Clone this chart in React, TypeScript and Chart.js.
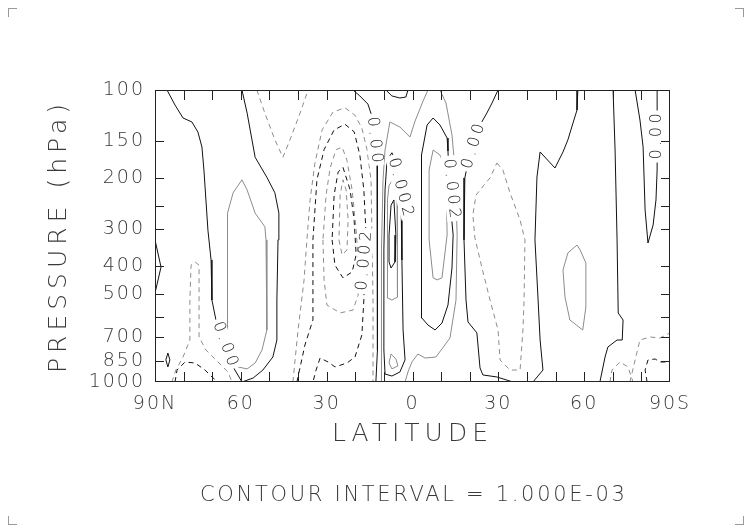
import { useEffect, useRef } from 'react';
import { Chart, registerables } from 'chart.js';

Chart.register(...registerables);

// Each contour point: [latitude (north positive), pressure in hPa]
type Pt = [number, number];

const latTickValues = [90, 60, 30, 0, -30, -60, -90];
const latTickLabels = ['90N', '60', '30', '0', '30', '60', '90S'];
const latMinorTicks = [80, 70, 60, 50, 40, 30, 20, 10, 0, -10, -20, -30, -40, -50, -60, -70, -80];
const presTickValues = [100, 150, 200, 300, 400, 500, 700, 850, 1000];
const presTickLabels = ['100', '150', '200', '300', '400', '500', '700', '850', '1000'];
const presMinorTicks = [150, 200, 250, 300, 400, 500, 600, 700, 850];

// ---- contour lines (level in units of the field) ----
const zeroWest: Pt[] = [[85.8, 100], [83.0, 112.6], [80.2, 124.7], [77.1, 128.7], [75.0, 139.3], [73.6, 156.7], [72.9, 188], [72.2, 238], [71.5, 302], [70.4, 382], [70.1, 524], [68.7, 613], [65.5, 747], [62.7, 888], [59.6, 1000], [55.7, 969], [52.3, 910], [48.8, 821], [47.4, 718], [47.4, 524], [47.0, 326], [46.7, 264], [48.1, 225], [50.9, 199], [55.0, 170], [57.8, 120], [59.6, 100]];
const posWest1: Pt[] = [[59.6, 203], [57.8, 220], [55.0, 264], [51.6, 294], [51.2, 326], [50.9, 663], [52.6, 777], [55.0, 861], [57.8, 902], [61.0, 888], [63.8, 796], [64.8, 663], [64.8, 326], [64.5, 264], [62.7, 225], [59.6, 203]];
const edgeLoop: Pt[] = [[90, 326], [87.9, 404], [90, 496]];
const smallLoop: Pt[] = [[85.5, 796], [84.8, 840], [85.5, 888], [86.2, 840], [85.5, 796]];
const negWestA: Pt[] = [[84.1, 1000], [82.7, 910], [80.2, 821], [77.8, 718], [77.8, 524], [77.4, 398], [76.0, 388], [74.6, 398], [74.6, 524], [74.6, 701], [72.2, 777], [68.0, 854], [64.5, 924], [63.1, 1000]];
const negWestB: Pt[] = [[83.0, 1000], [82.3, 910], [79.5, 854], [76.0, 861], [72.5, 910], [70.1, 961], [68.0, 1000]];
const negTopV: Pt[] = [[54.4, 100], [51.6, 120], [48.1, 148], [45.3, 170], [42.8, 148], [39.3, 120], [36.5, 100]];
const neg1: Pt[] = [[41.8, 1000], [40.0, 663], [37.9, 447], [36.9, 326], [35.8, 238], [34.1, 178], [31.6, 137], [27.8, 119], [23.6, 115], [20.1, 122], [17.7, 135], [15.9, 160], [14.5, 203], [14.2, 302], [13.8, 524], [13.8, 777], [13.8, 1000]];
const neg2: Pt[] = [[40.4, 1000], [37.6, 747], [34.8, 613], [34.8, 447], [34.8, 326], [33.4, 203], [30.9, 160], [27.4, 137], [23.6, 131], [20.4, 139], [18.4, 167], [17.0, 220], [16.3, 302], [16.6, 382], [17.0, 524], [17.7, 690], [20.1, 821], [22.9, 861], [27.1, 888], [29.5, 854], [32.3, 828], [33.7, 910], [34.8, 1000]];
const neg3: Pt[] = [[31.3, 326], [30.9, 447], [29.9, 545], [25.3, 580], [20.8, 567], [19.0, 504], [19.0, 382], [19.7, 302], [21.1, 220], [22.9, 174], [24.6, 157], [26.7, 160], [28.8, 185], [30.2, 229], [31.3, 326]];
const neg4: Pt[] = [[28.1, 326], [27.1, 398], [24.3, 440], [21.1, 420], [19.7, 367], [20.4, 279], [21.8, 220], [24.3, 184], [26.0, 191], [27.4, 229], [28.1, 326]];
const neg5: Pt[] = [[25.7, 326], [24.6, 367], [22.9, 353], [22.5, 279], [23.2, 220], [24.3, 203], [25.3, 229], [25.7, 326]];
const zeroCentral: Pt[] = [[20.8, 100], [18.4, 104.8], [15.6, 111.7], [14.2, 122.8], [13.1, 148.3], [12.4, 177.8], [12.1, 195.5], [12.1, 301.6], [12.4, 524], [12.4, 777], [12.8, 1000]];
const zeroTopSmall: Pt[] = [[9.3, 100], [7.2, 104.8], [4.4, 106.5], [2.3, 105.7], [1.6, 100]];
const pos1West: Pt[] = [[11.0, 1000], [11.0, 613], [10.7, 353], [10.3, 203], [9.6, 160.5], [7.9, 128.7], [4.4, 133.9], [0.9, 144.9], [-0.9, 127.7], [-3.7, 109.1], [-5.4, 100]];
const pos1East: Pt[] = [[-9.6, 100], [-11.7, 110.8], [-13.8, 142.6], [-14.9, 188], [-15.6, 313.7], [-15.2, 524], [-13.1, 706.8], [-8.2, 821], [-4.4, 827.7], [-1.9, 802], [0.2, 854], [1.6, 924], [2.6, 1000]];
const pos2Central: Pt[] = [[8.9, 174], [7.2, 164], [5.1, 181], [4.0, 238], [3.7, 382], [3.3, 663], [2.6, 840], [4.4, 924], [7.2, 954], [9.6, 939], [10.0, 777], [10.0, 353], [9.6, 220], [8.9, 174]];
const pos3Central: Pt[] = [[8.2, 212], [6.8, 203], [5.4, 238], [5.1, 314], [5.4, 512], [7.2, 524], [8.6, 516], [8.9, 326], [8.6, 238], [8.2, 212]];
const pos4Central: Pt[] = [[7.5, 248], [6.5, 238], [5.8, 314], [6.1, 388], [7.5, 407], [8.2, 388], [8.2, 314], [7.5, 248]];
const posSmall: Pt[] = [[7.5, 802], [5.8, 834], [5.1, 881], [7.2, 902], [8.2, 861], [7.5, 802]];
const pos2East: Pt[] = [[-7.2, 124.7], [-9.6, 131.8], [-12.1, 146], [-12.4, 161.8], [-13.1, 238], [-14.2, 313.7], [-13.8, 407], [-12.4, 545], [-10.3, 628], [-7.9, 663.5], [-5.4, 638], [-3.3, 604], [-3.0, 326], [-3.3, 167], [-5.1, 131.8], [-7.2, 124.7]];
const pos3East: Pt[] = [[-7.2, 160.5], [-9.6, 167], [-11.7, 188], [-12.1, 313.7], [-10.3, 440], [-8.6, 447], [-7.2, 440], [-5.8, 326], [-5.8, 188], [-7.2, 160.5]];
const zeroEast1: Pt[] = [[-29.9, 100], [-27.8, 110.8], [-26.0, 119.9], [-23.6, 131.8], [-21.1, 154.3], [-19.0, 185], [-18.3, 200], [-18.0, 326], [-18.7, 524], [-19.4, 623], [-22.5, 679], [-23.6, 895], [-24.6, 946], [-29.5, 961], [-35.1, 1000]];
const negEast1: Pt[] = [[-29.5, 177.8], [-31.6, 188], [-34.1, 225.4], [-37.6, 278.7], [-39.3, 326], [-39.0, 524], [-38.6, 663.5], [-37.6, 910], [-34.1, 910], [-30.6, 840.5], [-29.9, 663.5], [-27.1, 524], [-24.3, 407], [-21.8, 321], [-21.1, 268], [-22.2, 229], [-25.0, 211.6], [-27.1, 200], [-29.5, 177.8]];
const zeroEast2: Pt[] = [[-57.8, 100], [-57.5, 117.1], [-56.1, 129.7], [-54.3, 148.3], [-52.6, 163], [-49.8, 185], [-44.6, 163], [-43.5, 198.6], [-42.8, 326], [-43.9, 524], [-44.6, 718], [-45.6, 910], [-42.1, 1000]];
const posEast1: Pt[] = [[-57.5, 339.5], [-54.3, 361.6], [-52.6, 413.4], [-53.3, 511.6], [-55.0, 613.3], [-59.5, 663.5], [-60.6, 553.6], [-60.6, 391.2], [-58.6, 353.2], [-57.5, 339.5]];
const zeroEast3: Pt[] = [[-70.1, 100], [-70.8, 160.5], [-71.5, 326], [-71.9, 580.4], [-73.6, 613.3], [-73.3, 718], [-71.5, 718], [-68.3, 758.7], [-67.3, 821], [-65.5, 1000]];
const zeroEast4: Pt[] = [[-77.8, 100], [-79.5, 126.7], [-80.6, 156.7], [-81.3, 257.6], [-82.3, 334.2], [-84.1, 289.9], [-85.1, 238], [-85.5, 187.9], [-85.5, 119.9], [-85.5, 100]];
const negSE1: Pt[] = [[-69.0, 1000], [-69.7, 910], [-72.5, 854], [-75.3, 888], [-77.1, 1000]];
const negSE2: Pt[] = [[-76.0, 1000], [-77.8, 840.5], [-79.5, 718], [-83.0, 701], [-86.5, 707], [-90, 679]];
const negSE3: Pt[] = [[-82.0, 1000], [-81.3, 910], [-82.3, 840.5], [-84.8, 834], [-86.5, 854], [-90, 854]];

const contours: { level: number; pts: Pt[] }[] = [
  { level: 0, pts: zeroWest }, { level: 0.001, pts: posWest1 }, { level: 0, pts: edgeLoop },
  { level: 0, pts: smallLoop }, { level: -0.001, pts: negWestA }, { level: -0.002, pts: negWestB },
  { level: -0.001, pts: negTopV }, { level: -0.001, pts: neg1 }, { level: -0.002, pts: neg2 },
  { level: -0.003, pts: neg3 }, { level: -0.004, pts: neg4 }, { level: -0.005, pts: neg5 },
  { level: 0, pts: zeroCentral }, { level: 0, pts: zeroTopSmall }, { level: 0.001, pts: pos1West },
  { level: 0.001, pts: pos1East }, { level: 0.002, pts: pos2Central }, { level: 0.003, pts: pos3Central },
  { level: 0.004, pts: pos4Central }, { level: 0.003, pts: posSmall }, { level: 0.002, pts: pos2East },
  { level: 0.003, pts: pos3East }, { level: 0, pts: zeroEast1 }, { level: -0.001, pts: negEast1 },
  { level: 0, pts: zeroEast2 }, { level: 0.001, pts: posEast1 }, { level: 0, pts: zeroEast3 },
  { level: 0, pts: zeroEast4 }, { level: -0.001, pts: negSE1 }, { level: -0.001, pts: negSE2 },
  { level: -0.002, pts: negSE3 },
];

// contour labels
const labelText = ['0.00', '0.00', '0.002', '0.002', '0.002', '0.00', '0.00'];
const labelLat = [65.5, 13.3, 16.8, 4.2, -13.6, -21.3, -85.4];
const labelP = [741, 148, 385, 215, 217.5, 156, 144.3];
const labelAngle = [70, 84, -85, 75, 84, -73, -90];

const FONT = '"DejaVu Sans", "Liberation Sans", sans-serif';

const spacingPlugin = {
  id: 'spacing',
  beforeDraw(chart: any) {
    chart.ctx.letterSpacing = '2px';
    Object.values(chart.scales).forEach((s: any) => {
      if (!s.__wrapped) {
        const orig = s.drawTitle.bind(s);
        s.drawTitle = function () {
          const c = this.ctx;
          const prev = c.letterSpacing;
          c.letterSpacing = '5px';
          orig();
          c.letterSpacing = prev;
        };
        s.__wrapped = true;
      }
    });
  },
  afterDraw(chart: any) {
    chart.ctx.letterSpacing = '0px';
  },
};

const labelPlugin = {
  id: 'contourLabels',
  afterDatasetsDraw(chart: any) {
    const { ctx, scales } = chart;
    const x = scales.x;
    const y = scales.y;
    ctx.save();
    ctx.font = `300 16px ${FONT}`;
    ctx.letterSpacing = '3.5px';
    labelText.forEach((t, i) => {
      const px = x.getPixelForValue(labelLat[i]);
      const py = y.getPixelForValue(labelP[i]);
      ctx.save();
      ctx.translate(px, py);
      ctx.rotate((labelAngle[i] * Math.PI) / 180);
      const w = ctx.measureText(t).width - 3.5;
      ctx.fillStyle = '#ffffff';
      ctx.fillRect(-w / 2 - 3, -7.5, w + 6, 15);
      ctx.fillStyle = '#222';
      ctx.textAlign = 'center';
      ctx.textBaseline = 'middle';
      ctx.fillText(t, 1.75, 0);
      ctx.restore();
    });
    ctx.restore();
  },
};

const framePlugin = {
  id: 'frame',
  afterDraw(chart: any) {
    const { ctx, chartArea, scales } = chart;
    const { left, right, top, bottom } = chartArea;
    ctx.save();
    ctx.letterSpacing = '0px';
    ctx.strokeStyle = '#222';
    ctx.lineWidth = 1;
    ctx.strokeRect(left + 0.5, top + 0.5, right - left - 1, bottom - top - 1);
    ctx.beginPath();
    latMinorTicks.forEach((v) => {
      const px = Math.round(scales.x.getPixelForValue(v)) + 0.5;
      ctx.moveTo(px, top);
      ctx.lineTo(px, top + 10);
      ctx.moveTo(px, bottom);
      ctx.lineTo(px, bottom - 10);
    });
    presMinorTicks.forEach((v) => {
      const py = Math.round(scales.y.getPixelForValue(v)) + 0.5;
      ctx.moveTo(left, py);
      ctx.lineTo(left + 9, py);
      ctx.moveTo(right, py);
      ctx.lineTo(right - 9, py);
    });
    ctx.stroke();
    ctx.restore();
  },
};

export default function App() {
  const ref = useRef<HTMLCanvasElement>(null);

  useEffect(() => {
    const canvas = ref.current;
    if (!canvas) return;
    const datasets = contours.map((c) => {
      const k = Math.round(Math.abs(c.level) * 1000);
      const dark = k % 2 === 0;
      return {
        data: c.pts.map(([lat, p]) => ({ x: lat, y: p })),
        showLine: true,
        pointRadius: 0,
        borderWidth: 1,
        borderColor: dark ? '#111111' : '#8c8c8c',
        borderDash: c.level < 0 ? [5, 4] : [],
        tension: 0,
        fill: false,
      };
    });
    const chart = new Chart(canvas, {
      type: 'scatter',
      data: { datasets },
      options: {
        animation: false,
        responsive: false,
        devicePixelRatio: 1,
        events: [],
        layout: { padding: { left: 0, right: 82, top: 90, bottom: 0 } },
        plugins: { legend: { display: false }, tooltip: { enabled: false } },
        scales: {
          x: {
            type: 'linear',
            position: 'bottom',
            min: -90,
            max: 90,
            reverse: true,
            grid: { display: false, drawTicks: false },
            border: { display: false },
            afterBuildTicks: (s: any) => {
              s.ticks = latTickValues.map((v) => ({ value: v }));
            },
            afterFit: (s: any) => {
              s.height = 150;
            },
            ticks: {
              autoSkip: false,
              maxRotation: 0,
              minRotation: 0,
              padding: 11,
              color: '#3a3a3a',
              font: { family: FONT, size: 19, weight: '300' as any },
              callback: (v: any) => latTickLabels[latTickValues.indexOf(Number(v))] ?? '',
            },
            title: {
              display: true,
              text: 'LATITUDE',
              color: '#3a3a3a',
              font: { family: FONT, size: 25, weight: '300' as any },
              padding: { top: 0, bottom: 83 },
            },
          },
          y: {
            type: 'logarithmic',
            position: 'left',
            min: 100,
            max: 1000,
            reverse: true,
            grid: { display: false, drawTicks: false },
            border: { display: false },
            afterBuildTicks: (s: any) => {
              s.ticks = presTickValues.map((v) => ({ value: v }));
            },
            afterFit: (s: any) => {
              s.width = 155;
            },
            ticks: {
              autoSkip: false,
              padding: 10,
              color: '#3a3a3a',
              font: { family: FONT, size: 19, weight: '300' as any },
              callback: (v: any) => presTickLabels[presTickValues.indexOf(Number(v))] ?? '',
            },
            title: {
              display: true,
              text: 'PRESSURE (hPa)',
              color: '#3a3a3a',
              font: { family: FONT, size: 25, weight: '300' as any },
              padding: { top: 44, bottom: 0 },
            },
          },
        },
      },
      plugins: [spacingPlugin, labelPlugin, framePlugin],
    } as any);
    return () => chart.destroy();
  }, []);

  const mark = (extra: any) => ({
    position: 'absolute' as const,
    width: 8,
    height: 8,
    borderColor: '#9a9a9a',
    borderStyle: 'solid',
    borderWidth: 0,
    ...extra,
  });

  return (
    <div style={{ position: 'absolute', left: 0, top: 0, width: 752, height: 532, background: '#fff', overflow: 'hidden' }}>
      <canvas ref={ref} width={752} height={532} style={{ position: 'absolute', left: 0, top: 0, width: 752, height: 532 }} />
      <div
        style={{
          position: 'absolute',
          left: 200,
          top: 482,
          fontFamily: FONT,
          fontWeight: 300,
          fontSize: 21,
          lineHeight: '24px',
          letterSpacing: '2.7px',
          color: '#3a3a3a',
          whiteSpace: 'nowrap',
        }}
      >
        CONTOUR INTERVAL = 1.000E-03
      </div>
      <div style={mark({ left: 8, top: 8, borderLeftWidth: 1, borderTopWidth: 1 })} />
      <div style={mark({ left: 735, top: 8, borderRightWidth: 1, borderTopWidth: 1 })} />
      <div style={mark({ left: 8, top: 516, borderLeftWidth: 1, borderBottomWidth: 1 })} />
      <div style={mark({ left: 735, top: 516, borderRightWidth: 1, borderBottomWidth: 1 })} />
    </div>
  );
}
